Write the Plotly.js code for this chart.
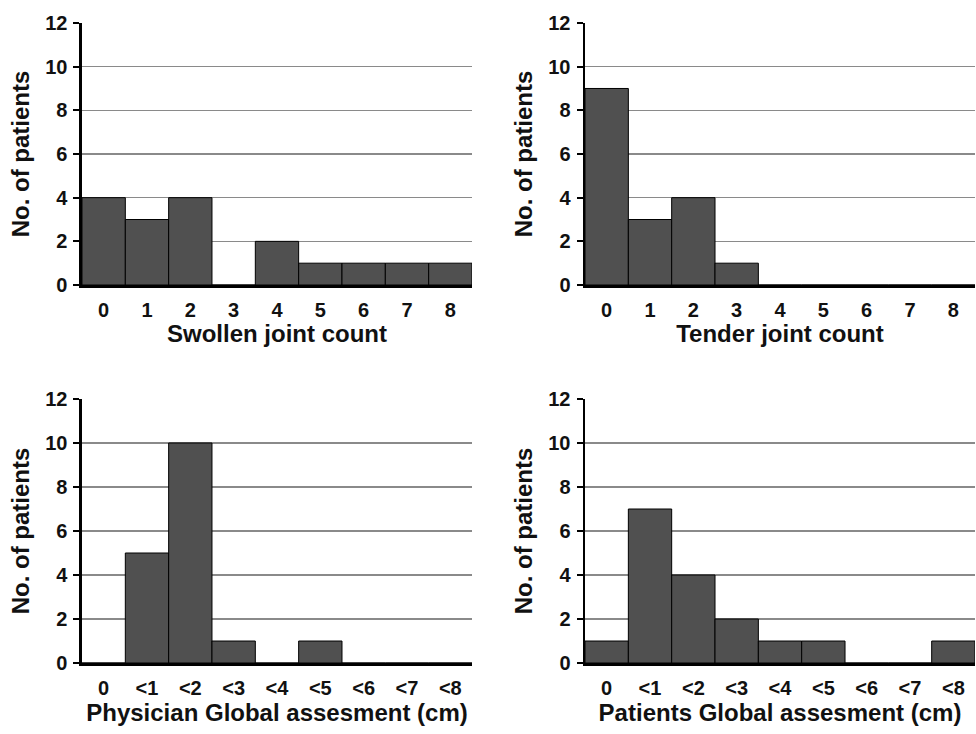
<!DOCTYPE html>
<html>
<head>
<meta charset="utf-8">
<script src="https://cdn.plot.ly/plotly-3.0.1.min.js"></script>
<style>html,body{margin:0;padding:0;background:#fff;}#chart{width:976px;height:734px;}</style>
</head>
<body>
<div id="chart"></div>
<script>
// ---- data ----
const countCategories = ["0","1","2","3","4","5","6","7","8"];
const vasCategories = ["0","<1","<2","<3","<4","<5","<6","<7","<8"];
const swollenJointCount = [4,3,4,0,2,1,1,1,1];
const tenderJointCount = [9,3,4,1,0,0,0,0,0];
const physicianGlobal = [0,5,10,1,0,1,0,0,0];
const patientsGlobal = [1,7,4,2,1,1,0,0,1];
const xTitles = ["Swollen joint count","Tender joint count","Physician Global assesment (cm)","Patients Global assesment (cm)"];
const yTitle = "No. of patients";

const FONT = "Liberation Sans, Arial, sans-serif";
const barColor = "#505050";

function bar(x, y, xa, ya){
  return {type:"bar", x:x, y:y, xaxis:xa, yaxis:ya,
    marker:{color:barColor, line:{color:"#000", width:1}}, hoverinfo:"x+y"};
}
const data = [
  bar(countCategories, swollenJointCount, "x", "y"),
  bar(countCategories, tenderJointCount, "x2", "y2"),
  bar(vasCategories, physicianGlobal, "x3", "y3"),
  bar(vasCategories, patientsGlobal, "x4", "y4")
];

function xax(domain, anchor, title){
  return {domain:domain, anchor:anchor, type:"category", range:[-0.5,8.5],
    showline:true, linecolor:"#000", linewidth:2.5, ticks:"", showgrid:false, zeroline:false,
    tickfont:{family:FONT, size:20, color:"#111", weight:"bold"}, ticklabelstandoff:5,
    fixedrange:true,
    title:{text:title, font:{family:FONT, size:24, color:"#111", weight:"bold"}, standoff:5}};
}
function yax(domain, anchor){
  return {domain:domain, anchor:anchor, range:[0,12], dtick:2, tick0:0,
    showline:true, linecolor:"#000", linewidth:2.5, ticks:"outside", ticklen:6, tickwidth:2, tickcolor:"#000",
    showgrid:true, gridcolor:"#8a8a8a", gridwidth:1.2, zeroline:false,
    tickfont:{family:FONT, size:20, color:"#111", weight:"bold"}, ticklabelstandoff:2,
    fixedrange:true,
    title:{text:yTitle, font:{family:FONT, size:24, color:"#111", weight:"bold"}, standoff:9}};
}
const xL=[0.0840,0.4836], xR=[0.5994,0.999], yT=[0.6117,0.9687], yB=[0.0967,0.4564];
const layout = {
  width:976, height:734, margin:{l:0,r:0,t:0,b:0},
  paper_bgcolor:"#fff", plot_bgcolor:"#fff", showlegend:false, bargap:0,
  xaxis: xax(xL,"y",xTitles[0]),  yaxis: yax(yT,"x"),
  xaxis2: xax(xR,"y2",xTitles[1]), yaxis2: yax(yT,"x2"),
  xaxis3: xax(xL,"y3",xTitles[2]), yaxis3: yax(yB,"x3"),
  xaxis4: xax(xR,"y4",xTitles[3]), yaxis4: yax(yB,"x4")
};
Plotly.newPlot("chart", data, layout, {displayModeBar:false, staticPlot:true});
</script>
</body>
</html>
